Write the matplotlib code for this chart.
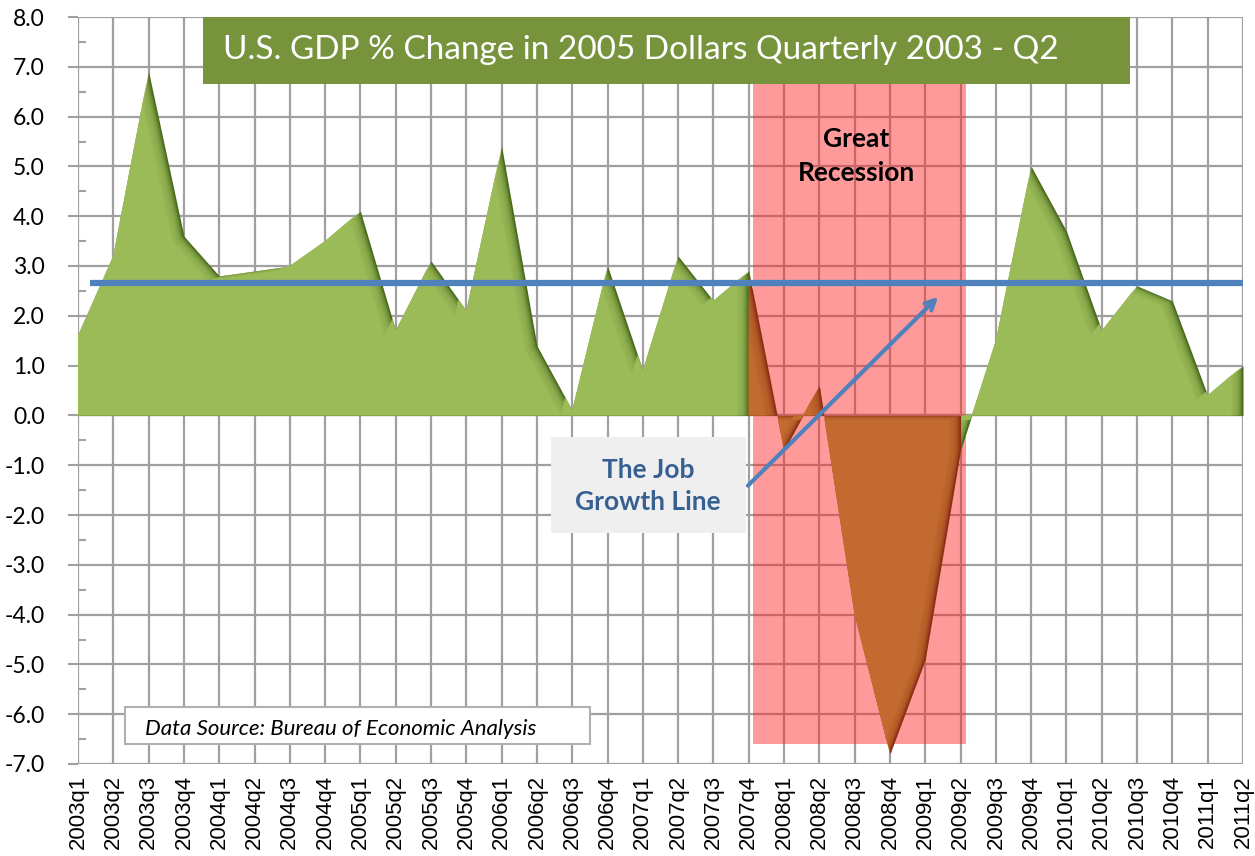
import matplotlib
matplotlib.use("Agg")
import matplotlib.pyplot as plt
import matplotlib.transforms as mtransforms
from matplotlib.patches import Rectangle, PathPatch
import numpy as np

# quarterly GDP % change
quarters = ["2003q1", "2003q2", "2003q3", "2003q4", "2004q1", "2004q2", "2004q3", "2004q4",
            "2005q1", "2005q2", "2005q3", "2005q4", "2006q1", "2006q2", "2006q3", "2006q4",
            "2007q1", "2007q2", "2007q3", "2007q4", "2008q1", "2008q2", "2008q3", "2008q4",
            "2009q1", "2009q2", "2009q3", "2009q4", "2010q1", "2010q2", "2010q3", "2010q4",
            "2011q1", "2011q2"]
gdp_change = [1.6, 3.2, 6.9, 3.6, 2.8, 2.9, 3.0, 3.5,
              4.1, 1.7, 3.1, 2.1, 5.4, 1.4, 0.1, 3.0,
              0.9, 3.2, 2.3, 2.9, -0.7, 0.6, -4.0, -6.8,
              -4.9, -0.7, 1.5, 5.0, 3.7, 1.7, 2.6, 2.3,
              0.4, 1.0]
recession_start = "2007q4"
recession_end = "2009q2"
job_growth_level = 2.65
yticks = np.arange(-7, 9, 1)

title = "U.S. GDP % Change in 2005 Dollars Quarterly 2003 - Q2"
source_note = "Data Source: Bureau of Economic Analysis"

x = np.arange(len(quarters))
y = np.array(gdp_change)
i0 = quarters.index(recession_start)
i1 = quarters.index(recession_end)

fig = plt.figure(figsize=(12.55, 8.56), dpi=100)
ax = fig.add_axes([78 / 1255, (856 - 764) / 856, (1243 - 78) / 1255, (764 - 17) / 856])
ax.set_xlim(0, len(quarters) - 1)
ax.set_ylim(-7, 8)

# grid
ax.set_axisbelow(True)
ax.grid(True, color="#a0a0a0", linewidth=1.6, zorder=0)
for s in ax.spines.values():
    s.set_visible(False)
ax.axhline(0, color="#8c8c8c", linewidth=1.6, zorder=0.5)

ax.set_yticks(yticks)
ax.set_yticklabels([f"{v:.1f}" for v in yticks], family="Lato", fontsize=16.5)
ax.set_yticks(np.arange(-6.5, 8, 1), minor=True)
ax.tick_params(axis="y", which="major", direction="out", length=7, width=1.5, color="#a0a0a0", pad=17)
ax.tick_params(axis="y", which="minor", direction="in", length=6, width=1.5, color="#a0a0a0")
ax.set_xticks(x)
ax.set_xticklabels(quarters, rotation=90, family="Liberation Sans", fontsize=16)
ax.tick_params(axis="x", length=0, pad=8)

# recession band
band_top = 6.65
band = Rectangle((i0 + 0.12, -6.6), (i1 - i0) + 0.03, band_top + 6.6,
                 facecolor="#ff2020", alpha=0.45, edgecolor="none", zorder=1)
ax.add_patch(band)


def shaded_fill(xs, ys, color, shadow, z):
    # dark base, then lighter copies shifted left/down on top -> soft inner shadow
    coll = ax.fill_between(xs, ys, 0, color=shadow, linewidth=0, zorder=z)
    n = 10
    for path in coll.get_paths():
        for k in range(1, n + 1):
            off = mtransforms.ScaledTranslation(-1.15 * k / 100, -0.45 * k / 100, fig.dpi_scale_trans)
            pp = PathPatch(path, facecolor=color, edgecolor="none",
                           alpha=1.0 if k == n else 0.28,
                           transform=ax.transData + off, zorder=z + 0.01 * k)
            ax.add_patch(pp)
            pp.set_clip_path(path, ax.transData)
    return coll


shaded_fill(x[:i0 + 1], y[:i0 + 1], "#9bbb59", "#4a6a1e", 2)
shaded_fill(x[i1:], y[i1:], "#9bbb59", "#4a6a1e", 2)
shaded_fill(x[i0:i1 + 1], y[i0:i1 + 1], "#c26a30", "#8a3012", 2.5)

# job growth line
ax.plot([0.35, len(quarters) - 1], [job_growth_level, job_growth_level],
        color="#4f81bd", linewidth=4.5, solid_capstyle="butt", zorder=4)

# title box
ax.add_patch(Rectangle((3.54, 6.65), 26.26, 1.35, facecolor="#77933c", edgecolor="none",
                       zorder=6, clip_on=False))
ax.text(4.1, 7.33, title, color="white", family="Lato", fontsize=24,
        va="center", ha="left", zorder=7)

ax.text((i0 + i1) / 2 + 0.05, 5.2, "Great\nRecession", ha="center", va="center",
        family="Lato", fontweight="bold", fontsize=19, linespacing=1.5, zorder=6)

# job growth callout
ax.annotate("", xy=(24.42, 2.42), xytext=(18.92, -1.45),
            arrowprops=dict(arrowstyle="->,head_length=0.7,head_width=0.35", color="#4f81bd",
                            linewidth=3), zorder=5)
ax.add_patch(Rectangle((13.4, -2.37), 5.52, 1.93, facecolor="#efefef", edgecolor="none", zorder=6))
ax.text(16.15, -1.41, "The Job\nGrowth Line", ha="center", va="center", color="#376092",
        family="Lato", fontweight="bold", fontsize=19, linespacing=1.4, zorder=7)

ax.add_patch(Rectangle((1.33, -6.59), 13.17, 0.73, facecolor="white", edgecolor="#b0b0b0",
                       linewidth=1.5, zorder=6))
ax.text(1.9, -6.3, source_note, ha="left", va="center", style="italic",
        family="Lato", fontsize=16, zorder=7)

fig.savefig("out.png", dpi=100)
